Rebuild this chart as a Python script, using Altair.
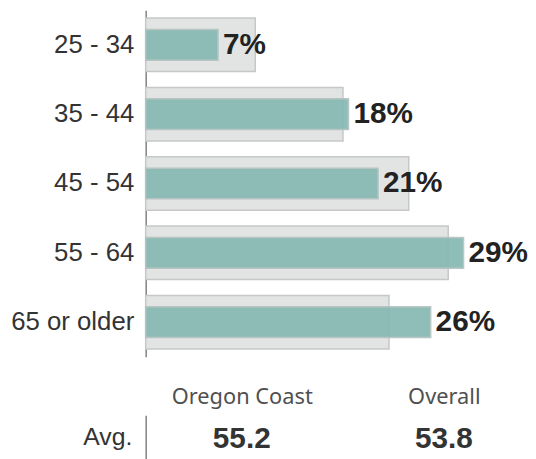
import altair as alt
import pandas as pd

age_groups = ["25 - 34", "35 - 44", "45 - 54", "55 - 64", "65 or older"]
oregon_coast = [6.6, 18.5, 21.2, 29.0, 26.0]
overall = [10.0, 18.0, 24.0, 27.6, 22.2]
pct_labels = ["7%", "18%", "21%", "29%", "26%"]

avg_headers = ["Oregon Coast", "Overall"]
avg_values = ["55.2", "53.8"]
avg_row = ["Avg.", "Avg."]

df = pd.DataFrame({"age": age_groups, "oregon": oregon_coast,
                   "overall": overall, "label": pct_labels})

xscale = alt.Scale(domain=[0, 30], nice=False, zero=True)

base = alt.Chart(df).encode(
    y=alt.Y("age:N", sort=age_groups,
            scale=alt.Scale(paddingInner=0, paddingOuter=0),
            axis=alt.Axis(title=None, ticks=False, grid=False,
                          labelFontSize=26, labelFont="Liberation Sans",
                          labelColor="#333333", labelPadding=12,
                          domainColor="#808080", domainWidth=1.5))
)

gray = base.mark_bar(size=54, color="#e1e4e3", stroke="#c6c8c8",
                     strokeWidth=1.5).encode(
    x=alt.X("overall:Q", scale=xscale, axis=None))
teal = base.mark_bar(size=31, color="#86b8b3", opacity=0.92,
                     stroke="#b4c2c0", strokeWidth=1.5).encode(
    x=alt.X("oregon:Q", scale=xscale, axis=None))
labels = base.mark_text(align="left", baseline="middle", dx=5, fontSize=30,
                        fontWeight="bold", font="Liberation Sans",
                        color="#222222").encode(
    x=alt.X("oregon:Q", scale=xscale, axis=None), text="label:N")

top = alt.layer(gray, teal, labels).properties(width=332, height=350)

df2 = pd.DataFrame({"grp": avg_headers, "val": avg_values, "row": avg_row})
bottom = alt.Chart(df2).mark_text(
    fontSize=30, fontWeight="bold", font="Liberation Sans",
    color="#333333", baseline="middle", dy=2).encode(
    x=alt.X("grp:N", sort=avg_headers,
            scale=alt.Scale(type="point", range=[97, 301], padding=0),
            axis=alt.Axis(orient="top", title=None, ticks=False, domain=False,
                          labelAngle=0, labelFontSize=22, labelFont="Noto Sans",
                          labelColor="#505050", labelPadding=7)),
    y=alt.Y("row:N",
            axis=alt.Axis(title=None, ticks=False, grid=False,
                          labelFontSize=25, labelFont="Liberation Sans",
                          labelColor="#333333", labelPadding=14,
                          domainColor="#808080", domainWidth=1.5)),
    text="val:N",
).properties(width=332, height=44)

chart = alt.vconcat(top, bottom, spacing=29).properties(
    padding={"left": 2, "top": 0, "right": 0, "bottom": 0}
).configure_view(stroke=None)

chart.save("out.html", embed_options={"renderer": "svg", "actions": False})
